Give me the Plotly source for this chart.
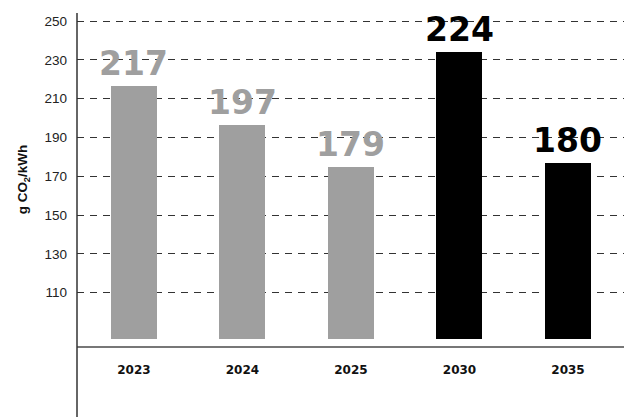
import plotly.graph_objects as go

years = ["2023", "2024", "2025", "2030", "2035"]
bar_tops = [216.5, 196.5, 175, 234, 177]
bar_labels = ["217", "197", "179", "224", "180"]
bar_colors = ["#9f9f9f", "#9f9f9f", "#9f9f9f", "#000000", "#000000"]
bar_base = 86.3
y_ticks = [110, 130, 150, 170, 190, 210, 230, 250]

fig = go.Figure()
fig.add_trace(go.Bar(
    x=years,
    y=[t - bar_base for t in bar_tops],
    base=bar_base,
    marker=dict(color=bar_colors, line=dict(width=0)),
    width=0.424,
    hoverinfo="skip",
))

for i, (top, lab, col) in enumerate(zip(bar_tops, bar_labels, bar_colors)):
    fig.add_annotation(
        x=i, y=top, xref="x", yref="y", text=lab, showarrow=False,
        xanchor="center", yanchor="bottom", yshift=1,
        font=dict(family="DejaVu Sans", size=33, color=col, weight="bold"),
    )

# page body has an 8px margin; figure is sized/margined to compensate
fig.update_layout(
    width=624, height=409,
    margin=dict(l=69, r=0, t=5, b=71, autoexpand=False),
    paper_bgcolor="white", plot_bgcolor="white",
    showlegend=False,
    bargap=0,
    xaxis=dict(
        type="category",
        range=[-0.525, 4.59],
        automargin=False,
        showgrid=False,
        showline=True, linecolor="#777777", linewidth=2,
        ticks="", ticklabelstandoff=12,
        tickfont=dict(family="DejaVu Sans", size=12, color="#111111", weight="bold"),
        zeroline=False,
    ),
    yaxis=dict(
        range=[82.5, 254.2],
        automargin=False,
        tickvals=y_ticks,
        showgrid=True, gridcolor="#333333", gridwidth=1, griddash="7px,6px",
        showline=False, zeroline=False,
        ticks="", ticklabelstandoff=9,
        tickfont=dict(family="Liberation Sans", size=13.5, color="#222222"),
        title=dict(text="g CO<sub>2</sub>/kWh", standoff=13,
                   font=dict(family="Liberation Sans", size=13.5, color="#111111", weight="bold")),
    ),
    shapes=[dict(type="line", xref="paper", yref="paper",
                 x0=0, x1=0, y0=-0.215, y1=1.0,
                 line=dict(color="#333333", width=1.5))],
)

fig.write_html("out.html")
